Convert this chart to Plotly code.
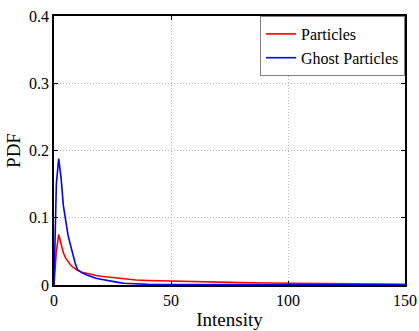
import plotly.graph_objects as go

# Data
blue_x = [0, 1, 2, 3, 4, 5, 6, 7, 8, 9, 10, 11, 12, 14, 16, 18, 20, 22, 25, 28, 30, 35, 40, 50, 60, 80, 100, 120, 150]
blue_y = [0.0, 0.15, 0.188, 0.16, 0.118, 0.092, 0.074, 0.06, 0.046, 0.033, 0.023, 0.02, 0.018, 0.015, 0.012, 0.01, 0.0085, 0.007, 0.005, 0.0035, 0.0025, 0.0015, 0.001, 0.0007, 0.0005, 0.0004, 0.0003, 0.0003, 0.0002]

red_x = [0, 1, 2, 3, 4, 5, 6, 7, 8, 9, 10, 12, 14, 16, 18, 20, 25, 30, 35, 40, 50, 60, 70, 80, 90, 100, 110, 120, 130, 140, 150]
red_y = [0.0, 0.05, 0.075, 0.062, 0.048, 0.04, 0.034, 0.03, 0.027, 0.024, 0.022, 0.019, 0.017, 0.015, 0.014, 0.013, 0.011, 0.0085, 0.0075, 0.0068, 0.0058, 0.0047, 0.004, 0.0035, 0.003, 0.0025, 0.0021, 0.0018, 0.0015, 0.0013, 0.0012]

x_ticks = [0, 50, 100, 150]
y_ticks = [0, 0.1, 0.2, 0.3, 0.4]
y_tick_labels = ["0", "0.1", "0.2", "0.3", "0.4"]

fig = go.Figure()
fig.add_trace(go.Scatter(x=red_x, y=red_y, mode="lines", name="Particles",
                         line=dict(color="#ff0000", width=1.6)))
fig.add_trace(go.Scatter(x=blue_x, y=blue_y, mode="lines", name="Ghost Particles",
                         line=dict(color="#0000ff", width=1.6)))

axis_common = dict(
    showline=True, linecolor="black", linewidth=1.5, mirror="ticks",
    ticks="inside", ticklen=4, tickcolor="black", tickwidth=1,
    showgrid=True, gridcolor="#b8b8b8", griddash="1px,2px", gridwidth=1,
    zeroline=False, automargin=False,
    tickfont=dict(family="Liberation Serif", size=16, color="black"),
)

fig.update_layout(
    width=419, height=331,
    margin=dict(l=54, r=14, t=16, b=46),
    paper_bgcolor="white", plot_bgcolor="white",
    font=dict(family="Liberation Serif", size=16, color="black"),
    xaxis=dict(range=[0, 150], tickvals=x_ticks, title=dict(text="Intensity", standoff=5), **axis_common),
    yaxis=dict(range=[0, 0.4], tickvals=y_ticks, ticktext=y_tick_labels, title=dict(text="PDF", standoff=3), **axis_common),
    legend=dict(x=1, y=1, xanchor="right", yanchor="top", bgcolor="white",
                bordercolor="#808080", borderwidth=1, itemwidth=30,
                font=dict(family="Liberation Serif", size=16), tracegroupgap=0),
    showlegend=True,
)

fig.write_html("out.html", config={"displayModeBar": False},
               post_script="document.body.style.margin='0px';")
